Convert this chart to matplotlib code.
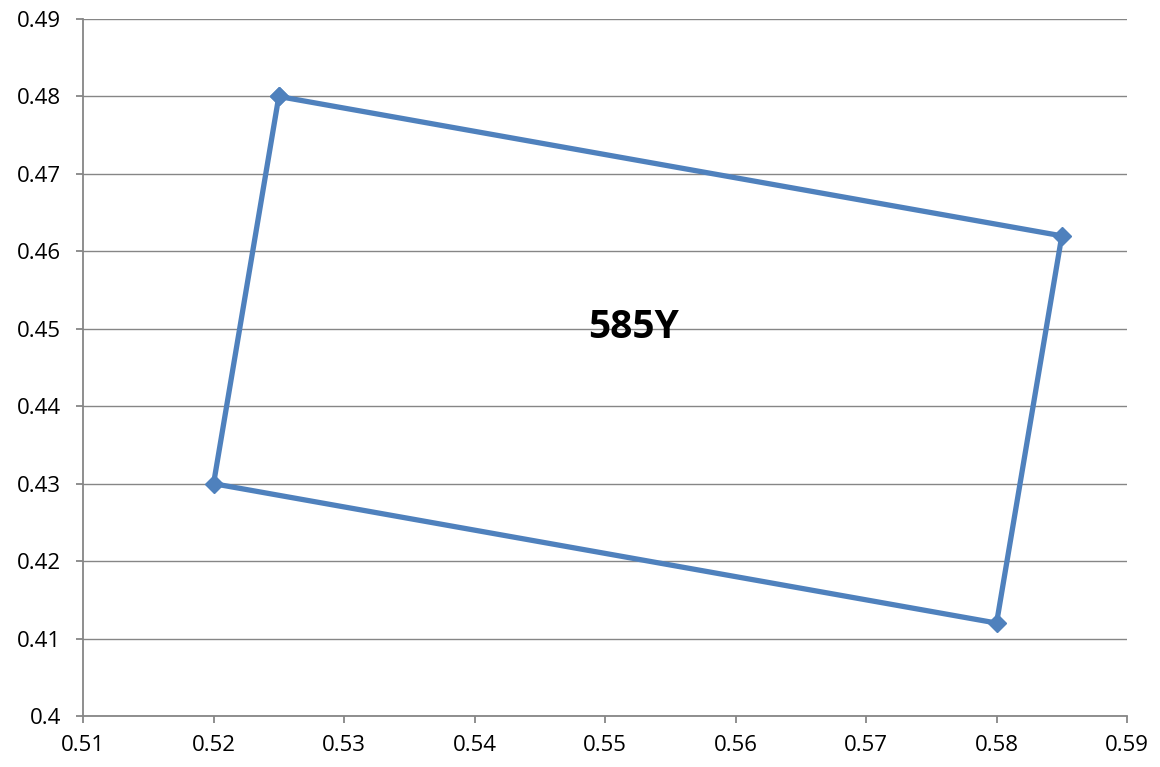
import matplotlib
matplotlib.use('Agg')
import matplotlib.pyplot as plt
from matplotlib.ticker import FormatStrFormatter

# outline of the 585Y region (closed polygon)
x_vals = [0.525, 0.585, 0.58, 0.52, 0.525]
y_vals = [0.48, 0.462, 0.412, 0.43, 0.48]
x_ticks = [0.51, 0.52, 0.53, 0.54, 0.55, 0.56, 0.57, 0.58, 0.59]
y_ticks = [0.4, 0.41, 0.42, 0.43, 0.44, 0.45, 0.46, 0.47, 0.48, 0.49]
label_text = '585Y'

plt.rcParams['font.family'] = ['Open Sans', 'DejaVu Sans']

fig = plt.figure(figsize=(11.6, 7.67), dpi=100)
ax = fig.add_axes([0.0716, 0.0665, 0.9, 0.9087])

ax.plot(x_vals, y_vals, color='#4F81BD', lw=3.8, marker='D', ms=9,
        markerfacecolor='#4F81BD', markeredgecolor='#4F81BD', zorder=3)

ax.text(0.5522, 0.4502, label_text, fontsize=28, fontweight='bold',
        ha='center', va='center')

ax.set_xlim(0.51, 0.59)
ax.set_ylim(0.4, 0.49)
ax.set_xticks(x_ticks)
ax.set_yticks(y_ticks)
ax.xaxis.set_major_formatter(FormatStrFormatter('%g'))
ax.yaxis.set_major_formatter(FormatStrFormatter('%g'))

ax.grid(axis='y', color='#868686', lw=1)
ax.set_axisbelow(True)
for s in ['top', 'right']:
    ax.spines[s].set_visible(False)
for s in ['left', 'bottom']:
    ax.spines[s].set_color('#868686')
    ax.spines[s].set_linewidth(1.3)
ax.tick_params(axis='both', labelsize=16, color='#868686', length=5,
               width=1.3, direction='out')
ax.tick_params(axis='y', pad=11)
ax.tick_params(axis='x', pad=9)

fig.savefig('out.png', dpi=100)
